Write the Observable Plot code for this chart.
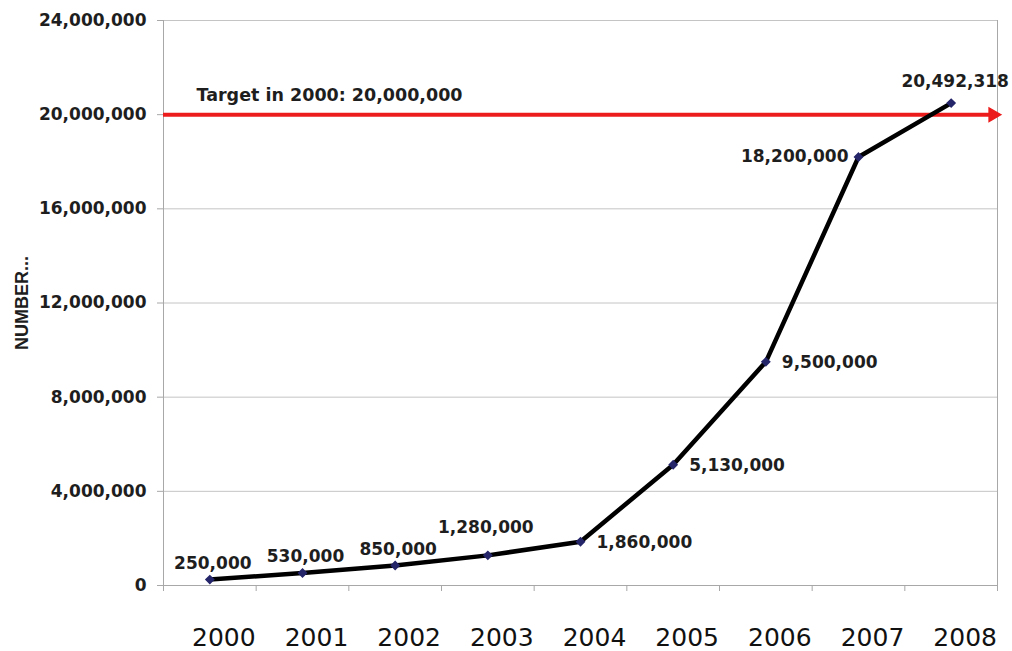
<!DOCTYPE html>
<html><head><meta charset="utf-8">
<script src="https://cdn.jsdelivr.net/npm/d3@7"></script>
<script src="https://cdn.jsdelivr.net/npm/@observablehq/plot@0.6"></script>
<style>body{margin:0;background:#fff} #chart svg{display:block}</style>
</head><body><div id="chart"></div>
<script>
const years = [2000, 2001, 2002, 2003, 2004, 2005, 2006, 2007, 2008];
const values = [250000, 530000, 850000, 1280000, 1860000, 5130000, 9500000, 18200000, 20492318];
const yTicks = [0, 4000000, 8000000, 12000000, 16000000, 20000000, 24000000];
const target = 20000000;
const targetLabel = "Target in 2000: 20,000,000";
const yLabel = "NUMBER...";

const data = years.map((year, i) => ({year, value: values[i]}));
const edges = years.map(y => y - 0.5).concat([years[years.length - 1] + 0.5]);
const fmt = d3.format(",");
const red = "#ec1c1c";
const grid = "#c4c4c4";
const lbl = {x: "year", y: "value", text: d => fmt(d.value), fontSize: 17, fontWeight: "bold", fill: "#1e1e1e", fontFamily: "DejaVu Sans"};

const chart = Plot.plot({
  width: 1012, height: 651,
  marginTop: 20, marginBottom: 66, marginLeft: 163, marginRight: 15,
  style: {background: "#fff", fontFamily: "DejaVu Sans", overflow: "visible"},
  x: {domain: [edges[0], edges[edges.length - 1]]},
  y: {domain: [0, 24000000]},
  marks: [
    Plot.gridY(yTicks, {stroke: grid, strokeOpacity: 1}),
    Plot.ruleX([edges[0], edges[edges.length - 1]], {stroke: "#a8a8a8"}),
    Plot.ruleY([0], {stroke: "#a8a8a8"}),
    Plot.axisY(yTicks, {tickFormat: fmt, tickSize: 6, tickPadding: 11, stroke: "#a8a8a8", fill: "#1e1e1e", fontSize: 17, fontWeight: "bold", label: null}),
    Plot.axisX(edges, {tickSize: 6, stroke: "#a8a8a8", fill: "none", label: null}),
    Plot.axisX(years, {tickSize: 0, tickPadding: 43, dx: 14, fontSize: 25, fill: "#111", tickFormat: d => String(d), label: null}),
    Plot.text([yLabel], {frameAnchor: "left", textAnchor: "middle", dx: -141, rotate: -90, fontSize: 18, fontWeight: "bold", fill: "#1e1e1e", fontFamily: "Liberation Sans"}),
    Plot.ruleY([target], {stroke: red, strokeWidth: 4}),
    Plot.dot([target], {y: d => d, frameAnchor: "right", dx: -4.5, symbol: "triangle", rotate: 90, r: 5, fill: red, stroke: red}),
    Plot.text([target], {y: d => d, text: () => targetLabel, frameAnchor: "left", dx: 33, dy: -19, textAnchor: "start", fontSize: 17.5, fontWeight: "bold", fill: "#1e1e1e", fontFamily: "DejaVu Sans"}),
    Plot.line(data, {x: "year", y: "value", stroke: "#000", strokeWidth: 4.5}),
    Plot.dot(data, {x: "year", y: "value", symbol: "diamond2", r: 3.5, fill: "#25256a", stroke: "#25256a"}),
    Plot.text(data, {...lbl, filter: d => d.year <= 2002, dx: 3, dy: -16}),
    Plot.text(data, {...lbl, filter: d => d.year === 2003, dx: -2, dy: -28}),
    Plot.text(data, {...lbl, filter: d => d.year >= 2004 && d.year <= 2006, textAnchor: "start", dx: 16, dy: 1}),
    Plot.text(data, {...lbl, filter: d => d.year === 2007, textAnchor: "end", dx: -10}),
    Plot.text(data, {...lbl, filter: d => d.year === 2008, dx: 4, dy: -22})
  ]
});
document.getElementById("chart").appendChild(chart);
</script>
</body></html>
